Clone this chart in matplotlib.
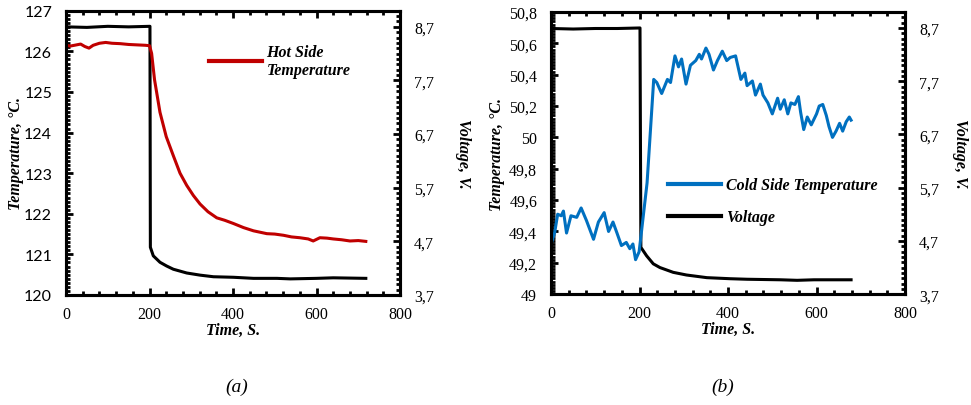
import matplotlib
matplotlib.use("Agg")
import matplotlib.pyplot as plt
from matplotlib.ticker import MultipleLocator, FuncFormatter
from matplotlib.lines import Line2D

plt.rcParams['font.family'] = ['Liberation Serif', 'DejaVu Serif']

# panel (a): hot side temperature and voltage
hot_time = [0, 10, 20, 35, 45, 55, 65, 80, 95, 110, 130, 150, 170, 190, 200,
            205, 212, 225, 240, 257, 273, 289, 305, 321, 340, 361, 380, 401,
            425, 449, 481, 500, 521, 540, 560, 580, 592, 608, 625, 640, 660,
            680, 700, 718]
hot_temp = [126.15, 126.13, 126.15, 126.18, 126.12, 126.08, 126.15, 126.2,
            126.22, 126.2, 126.19, 126.17, 126.16, 126.15, 126.14,
            125.95, 125.3, 124.5, 123.9, 123.43, 123.0, 122.7, 122.45, 122.24,
            122.05, 121.9, 121.84, 121.76, 121.66, 121.58, 121.51, 121.5,
            121.47, 121.43, 121.41, 121.38, 121.33, 121.41, 121.4, 121.38,
            121.36, 121.33, 121.34, 121.32]
volt_a_time = [0, 50, 100, 150, 201, 202, 209, 225, 241, 257, 289, 321, 353,
               401, 449, 505, 537, 600, 640, 718]
volt_a = [8.7, 8.69, 8.71, 8.7, 8.71, 4.59, 4.43, 4.31, 4.24, 4.18, 4.11,
          4.07, 4.04, 4.03, 4.01, 4.01, 4.0, 4.01, 4.02, 4.01]

# panel (b): cold side temperature and voltage
cold_time = [0, 8, 15, 23, 28, 35, 45, 58, 68, 80, 96, 107, 120, 130, 140,
             149, 159, 170, 178, 185, 191, 199, 204, 217, 232, 239, 250, 263,
             270, 280, 288, 295, 305, 315, 327, 335, 340, 350, 357, 367, 376,
             387, 397, 405, 417, 429, 438, 443, 455, 462, 473, 479, 490, 500,
             512, 518, 527, 535, 542, 551, 559, 564, 571, 579, 588, 600, 606,
             614, 622, 628, 636, 644, 652, 659, 667, 674, 678]
cold_temp = [49.32, 49.39, 49.51, 49.50, 49.53, 49.39, 49.50, 49.49, 49.55,
             49.47, 49.35, 49.46, 49.52, 49.40, 49.46, 49.39, 49.31, 49.33,
             49.29, 49.32, 49.22, 49.27, 49.39, 49.71, 50.37, 50.35, 50.28,
             50.37, 50.35, 50.52, 50.45, 50.50, 50.34, 50.46, 50.49, 50.53,
             50.50, 50.57, 50.53, 50.43, 50.49, 50.55, 50.49, 50.51, 50.52,
             50.37, 50.41, 50.33, 50.36, 50.27, 50.34, 50.27, 50.22, 50.15,
             50.25, 50.18, 50.24, 50.15, 50.22, 50.21, 50.26, 50.16, 50.05,
             50.13, 50.08, 50.15, 50.20, 50.21, 50.14, 50.07, 50.00, 50.04,
             50.09, 50.04, 50.10, 50.13, 50.11]
volt_b_time = [0, 50, 100, 150, 201, 203, 216, 231, 246, 276, 306, 352, 405,
               443, 519, 556, 594, 678]
volt_b = [8.69, 8.68, 8.69, 8.69, 8.7, 4.58, 4.42, 4.27, 4.2, 4.11, 4.06,
          4.01, 3.99, 3.98, 3.97, 3.96, 3.97, 3.97]

RED = '#C00000'
BLUE = '#0070C0'
LW = 2.2
comma = FuncFormatter(lambda v, p: f"{v:g}".replace('.', ','))
lab_font = dict(fontsize=11.5, fontweight='bold', fontstyle='italic')
leg_font = dict(size=11.5, weight='bold', style='italic')

fig = plt.figure(figsize=(9.71, 4.06), dpi=100)


def style_axes(ax, ax2, tpad, vpad):
    for a in (ax, ax2):
        for s in a.spines.values():
            s.set_linewidth(2.2)
    ax.set_xlim(0, 800)
    ax.xaxis.set_major_locator(MultipleLocator(200))
    ax.xaxis.set_minor_locator(MultipleLocator(40))
    ax.tick_params(axis='both', which='both', direction='in', top=True,
                   width=2, labelsize=11.5)
    ax.tick_params(which='major', length=5)
    ax.tick_params(which='minor', length=3)
    ax.tick_params(axis='x', pad=8)
    ax.tick_params(axis='y', pad=10)
    ax2.set_ylim(3.7, 9.0)
    ax2.yaxis.set_minor_locator(MultipleLocator(0.1))
    ax2.set_yticks([3.7, 4.7, 5.7, 6.7, 7.7, 8.7])
    ax2.yaxis.set_major_formatter(comma)
    ax2.tick_params(axis='y', which='both', direction='in', width=2,
                    labelsize=11.5, pad=10)
    ax2.tick_params(which='major', length=5)
    ax2.tick_params(which='minor', length=3)
    ax.set_xlabel('Time, S.', labelpad=0, **lab_font)
    ax.set_ylabel('Temperature, °C.', labelpad=tpad, **lab_font)
    ax2.set_ylabel('Voltage, V.', rotation=270, labelpad=vpad, **lab_font)


# (a)
ax1 = fig.add_axes([0.068, 0.271, 0.344, 0.700])
ax1b = ax1.twinx()
ax1.set_ylim(120, 127)
ax1.yaxis.set_major_locator(MultipleLocator(1))
ax1.yaxis.set_minor_locator(MultipleLocator(0.1))
ax1b.plot(volt_a_time, volt_a, color='black', lw=LW)
ax1.plot(hot_time, hot_temp, color=RED, lw=LW)
ax1.set_zorder(ax1b.get_zorder() + 1)
ax1.patch.set_visible(False)
style_axes(ax1, ax1b, 0, 27)
for t in ax1.get_yticklabels():
    t.set_family(['Lato', 'DejaVu Sans'])
ax1.legend(handles=[Line2D([], [], color=RED, lw=3)],
           labels=['Hot Side\nTemperature'], loc='upper left',
           bbox_to_anchor=(0.385, 0.935), frameon=False, handlelength=3.3,
           handletextpad=0.3, prop=leg_font)

# (b)
ax2 = fig.add_axes([0.5675, 0.273, 0.3646, 0.695])
ax2b = ax2.twinx()
ax2.set_ylim(49, 50.8)
ax2.yaxis.set_major_locator(MultipleLocator(0.2))
ax2.yaxis.set_minor_locator(MultipleLocator(0.02))
ax2.yaxis.set_major_formatter(comma)
ax2b.plot(volt_b_time, volt_b, color='black', lw=LW)
ax2.plot(cold_time, cold_temp, color=BLUE, lw=LW)
ax2.set_zorder(ax2b.get_zorder() + 1)
ax2.patch.set_visible(False)
style_axes(ax2, ax2b, 3, 21)
ax2.legend(handles=[Line2D([], [], color=BLUE, lw=3),
                    Line2D([], [], color='black', lw=3)],
           labels=['Cold Side Temperature', 'Voltage'], loc='upper left',
           bbox_to_anchor=(0.29, 0.465), frameon=False, handlelength=3.3,
           handletextpad=0.3, labelspacing=1.0, prop=leg_font)

fig.text(0.244, 0.035, '(a)', fontsize=14, fontstyle='italic', ha='center')
fig.text(0.744, 0.035, '(b)', fontsize=14, fontstyle='italic', ha='center')

fig.savefig('out.png', dpi=100)
